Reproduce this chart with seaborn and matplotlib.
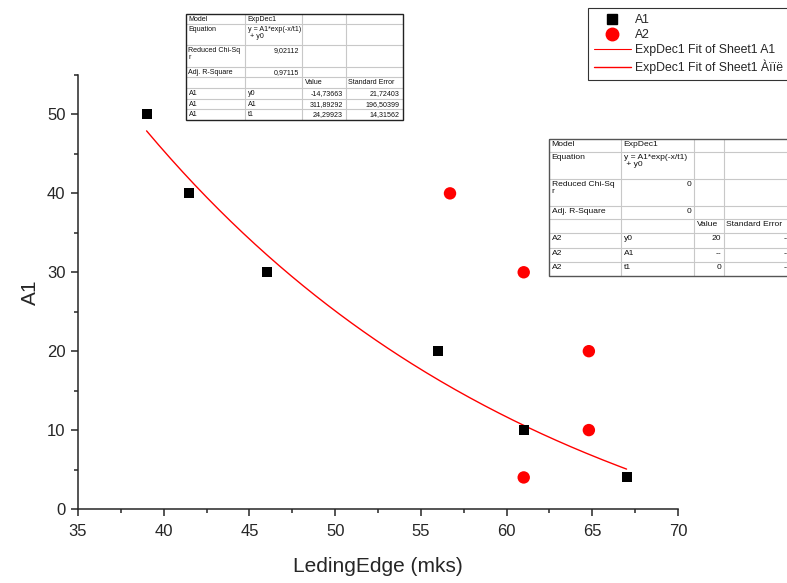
import numpy as np
import pandas as pd
import matplotlib
matplotlib.use("Agg")
import matplotlib.pyplot as plt
import seaborn as sns
from matplotlib.lines import Line2D
from matplotlib.ticker import MultipleLocator

# ---- data ----
a1_x = [39, 41.5, 46, 56, 61, 67]
a1_y = [50, 40, 30, 20, 10, 4]
a2_x = [56.7, 61, 64.8, 64.8, 61]
a2_y = [40, 30, 20, 10, 4]
# ExpDec1 fit parameters for A1 (from the fit table)
fit_y0 = -14.73663
fit_A1 = 311.89292
fit_t1 = 24.29923
fit_xmin, fit_xmax = 39, 67

x_ticks = [35, 40, 45, 50, 55, 60, 65, 70]
y_ticks = [0, 10, 20, 30, 40, 50]

sns.set_style("ticks")
plt.rcParams['font.family'] = ['Liberation Sans', 'DejaVu Sans']

fig = plt.figure(figsize=(7.87, 5.83), dpi=100)
W, H = 787, 583
ax = fig.add_axes([78 / W, 1 - 509 / H, 600 / W, (509 - 75) / H])

df1 = pd.DataFrame({"x": a1_x, "y": a1_y})
df2 = pd.DataFrame({"x": a2_x, "y": a2_y})
fx = np.linspace(fit_xmin, fit_xmax, 200)
fdf = pd.DataFrame({"x": fx, "y": fit_A1 * np.exp(-fx / fit_t1) + fit_y0})

sns.lineplot(data=fdf, x="x", y="y", ax=ax, color="red", linewidth=1.0, zorder=2)
sns.scatterplot(data=df1, x="x", y="y", ax=ax, marker="s", s=52, color="black",
                edgecolor="none", zorder=3)
sns.scatterplot(data=df2, x="x", y="y", ax=ax, marker="o", s=80, color="red",
                edgecolor="none", zorder=3)

ax.set_xlim(35, 70)
ax.set_ylim(0, 55)
ax.set_xticks(x_ticks)
ax.set_yticks(y_ticks)
ax.xaxis.set_minor_locator(MultipleLocator(2.5))
ax.yaxis.set_minor_locator(MultipleLocator(5))
ax.tick_params(which="major", length=5, width=1.1, labelsize=12, direction="out")
ax.tick_params(axis="x", which="major", pad=6)
ax.tick_params(axis="y", which="major", pad=4)
ax.tick_params(which="minor", length=3, width=1.1, direction="out")
for s in ["top", "right"]:
    ax.spines[s].set_visible(False)
for s in ["left", "bottom"]:
    ax.spines[s].set_linewidth(1.1)
ax.set_xlabel("LedingEdge (mks)", fontsize=15, labelpad=13)
ax.set_ylabel("A1", fontsize=15, labelpad=5)

# ---- legend ----
handles = [
    Line2D([], [], marker="s", color="black", linestyle="none", markersize=7),
    Line2D([], [], marker="o", color="red", linestyle="none", markersize=9),
    Line2D([], [], color="red", linewidth=0.8),
    Line2D([], [], color="red", linewidth=1.0),
]
labels = ["A1", "A2", "ExpDec1 Fit of Sheet1 A1", "ExpDec1 Fit of Sheet1 Àïïë"]
leg = fig.legend(handles, labels, loc="upper left",
                 bbox_to_anchor=(588 / W, 1 - 8 / H), frameon=True, fancybox=False,
                 fontsize=8.8, handlelength=3.0, handletextpad=0.35, labelspacing=0.26,
                 borderpad=0.5, borderaxespad=0)
leg.get_frame().set_edgecolor("black")
leg.get_frame().set_linewidth(0.8)

# ---- tables (overlay in pixel coords) ----
ov = fig.add_axes([0, 0, 1, 1], zorder=5)
ov.set_xlim(0, W)
ov.set_ylim(H, 0)
ov.axis("off")
ov.patch.set_alpha(0)


def draw_table(cols, rows, cells, fs, border_color):
    x0, x1 = cols[0], cols[-1]
    y0, y1 = rows[0], rows[-1]
    ov.add_patch(plt.Rectangle((x0, y0), x1 - x0, y1 - y0, facecolor="white",
                               edgecolor="none", zorder=1))
    for c in cols[1:-1]:
        ov.plot([c, c], [y0, y1], color="#c8c8c8", lw=0.8, zorder=2)
    for r in rows[1:-1]:
        ov.plot([x0, x1], [r, r], color="#c8c8c8", lw=0.8, zorder=2)
    ov.add_patch(plt.Rectangle((x0, y0), x1 - x0, y1 - y0, facecolor="none",
                               edgecolor=border_color, lw=1.0, zorder=3))
    for (ri, ci, txt, ha) in cells:
        ty = rows[ri] + 1.8
        if ha == "left":
            tx = cols[ci] + 2.5
        else:
            tx = cols[ci + 1] - 3
        ov.text(tx, ty, txt, ha=ha, va="top", fontsize=fs, zorder=4,
                linespacing=1.0, color="#111111")


top_cols = [186, 245, 302, 346, 403]
top_rows = [14, 24, 45, 67, 77, 88, 99, 109, 120]
top_cells = [
    (0, 0, "Model", "left"), (0, 1, "ExpDec1", "left"),
    (1, 0, "Equation", "left"), (1, 1, "y = A1*exp(-x/t1)\n + y0", "left"),
    (2, 0, "Reduced Chi-Sq\nr", "left"), (2, 1, "9,02112", "right"),
    (3, 0, "Adj. R-Square", "left"), (3, 1, "0,97115", "right"),
    (4, 2, "Value", "left"), (4, 3, "Standard Error", "left"),
    (5, 0, "A1", "left"), (5, 1, "y0", "left"), (5, 2, "-14,73663", "right"), (5, 3, "21,72403", "right"),
    (6, 0, "A1", "left"), (6, 1, "A1", "left"), (6, 2, "311,89292", "right"), (6, 3, "196,50399", "right"),
    (7, 0, "A1", "left"), (7, 1, "t1", "left"), (7, 2, "24,29923", "right"), (7, 3, "14,31562", "right"),
]
draw_table(top_cols, top_rows, top_cells, 5.1, "#222222")

r_cols = [549, 621, 694, 724, 792]
r_rows = [139, 152, 179, 206, 219, 233, 248, 262, 276]
r_cells = [
    (0, 0, "Model", "left"), (0, 1, "ExpDec1", "left"),
    (1, 0, "Equation", "left"), (1, 1, "y = A1*exp(-x/t1)\n + y0", "left"),
    (2, 0, "Reduced Chi-Sq\nr", "left"), (2, 1, "0", "right"),
    (3, 0, "Adj. R-Square", "left"), (3, 1, "0", "right"),
    (4, 2, "Value", "left"), (4, 3, "Standard Error", "left"),
    (5, 0, "A2", "left"), (5, 1, "y0", "left"), (5, 2, "20", "right"), (5, 3, "--", "right"),
    (6, 0, "A2", "left"), (6, 1, "A1", "left"), (6, 2, "--", "right"), (6, 3, "--", "right"),
    (7, 0, "A2", "left"), (7, 1, "t1", "left"), (7, 2, "0", "right"), (7, 3, "--", "right"),
]
draw_table(r_cols, r_rows, r_cells, 6.1, "#555555")

fig.savefig("out.png", dpi=100)
